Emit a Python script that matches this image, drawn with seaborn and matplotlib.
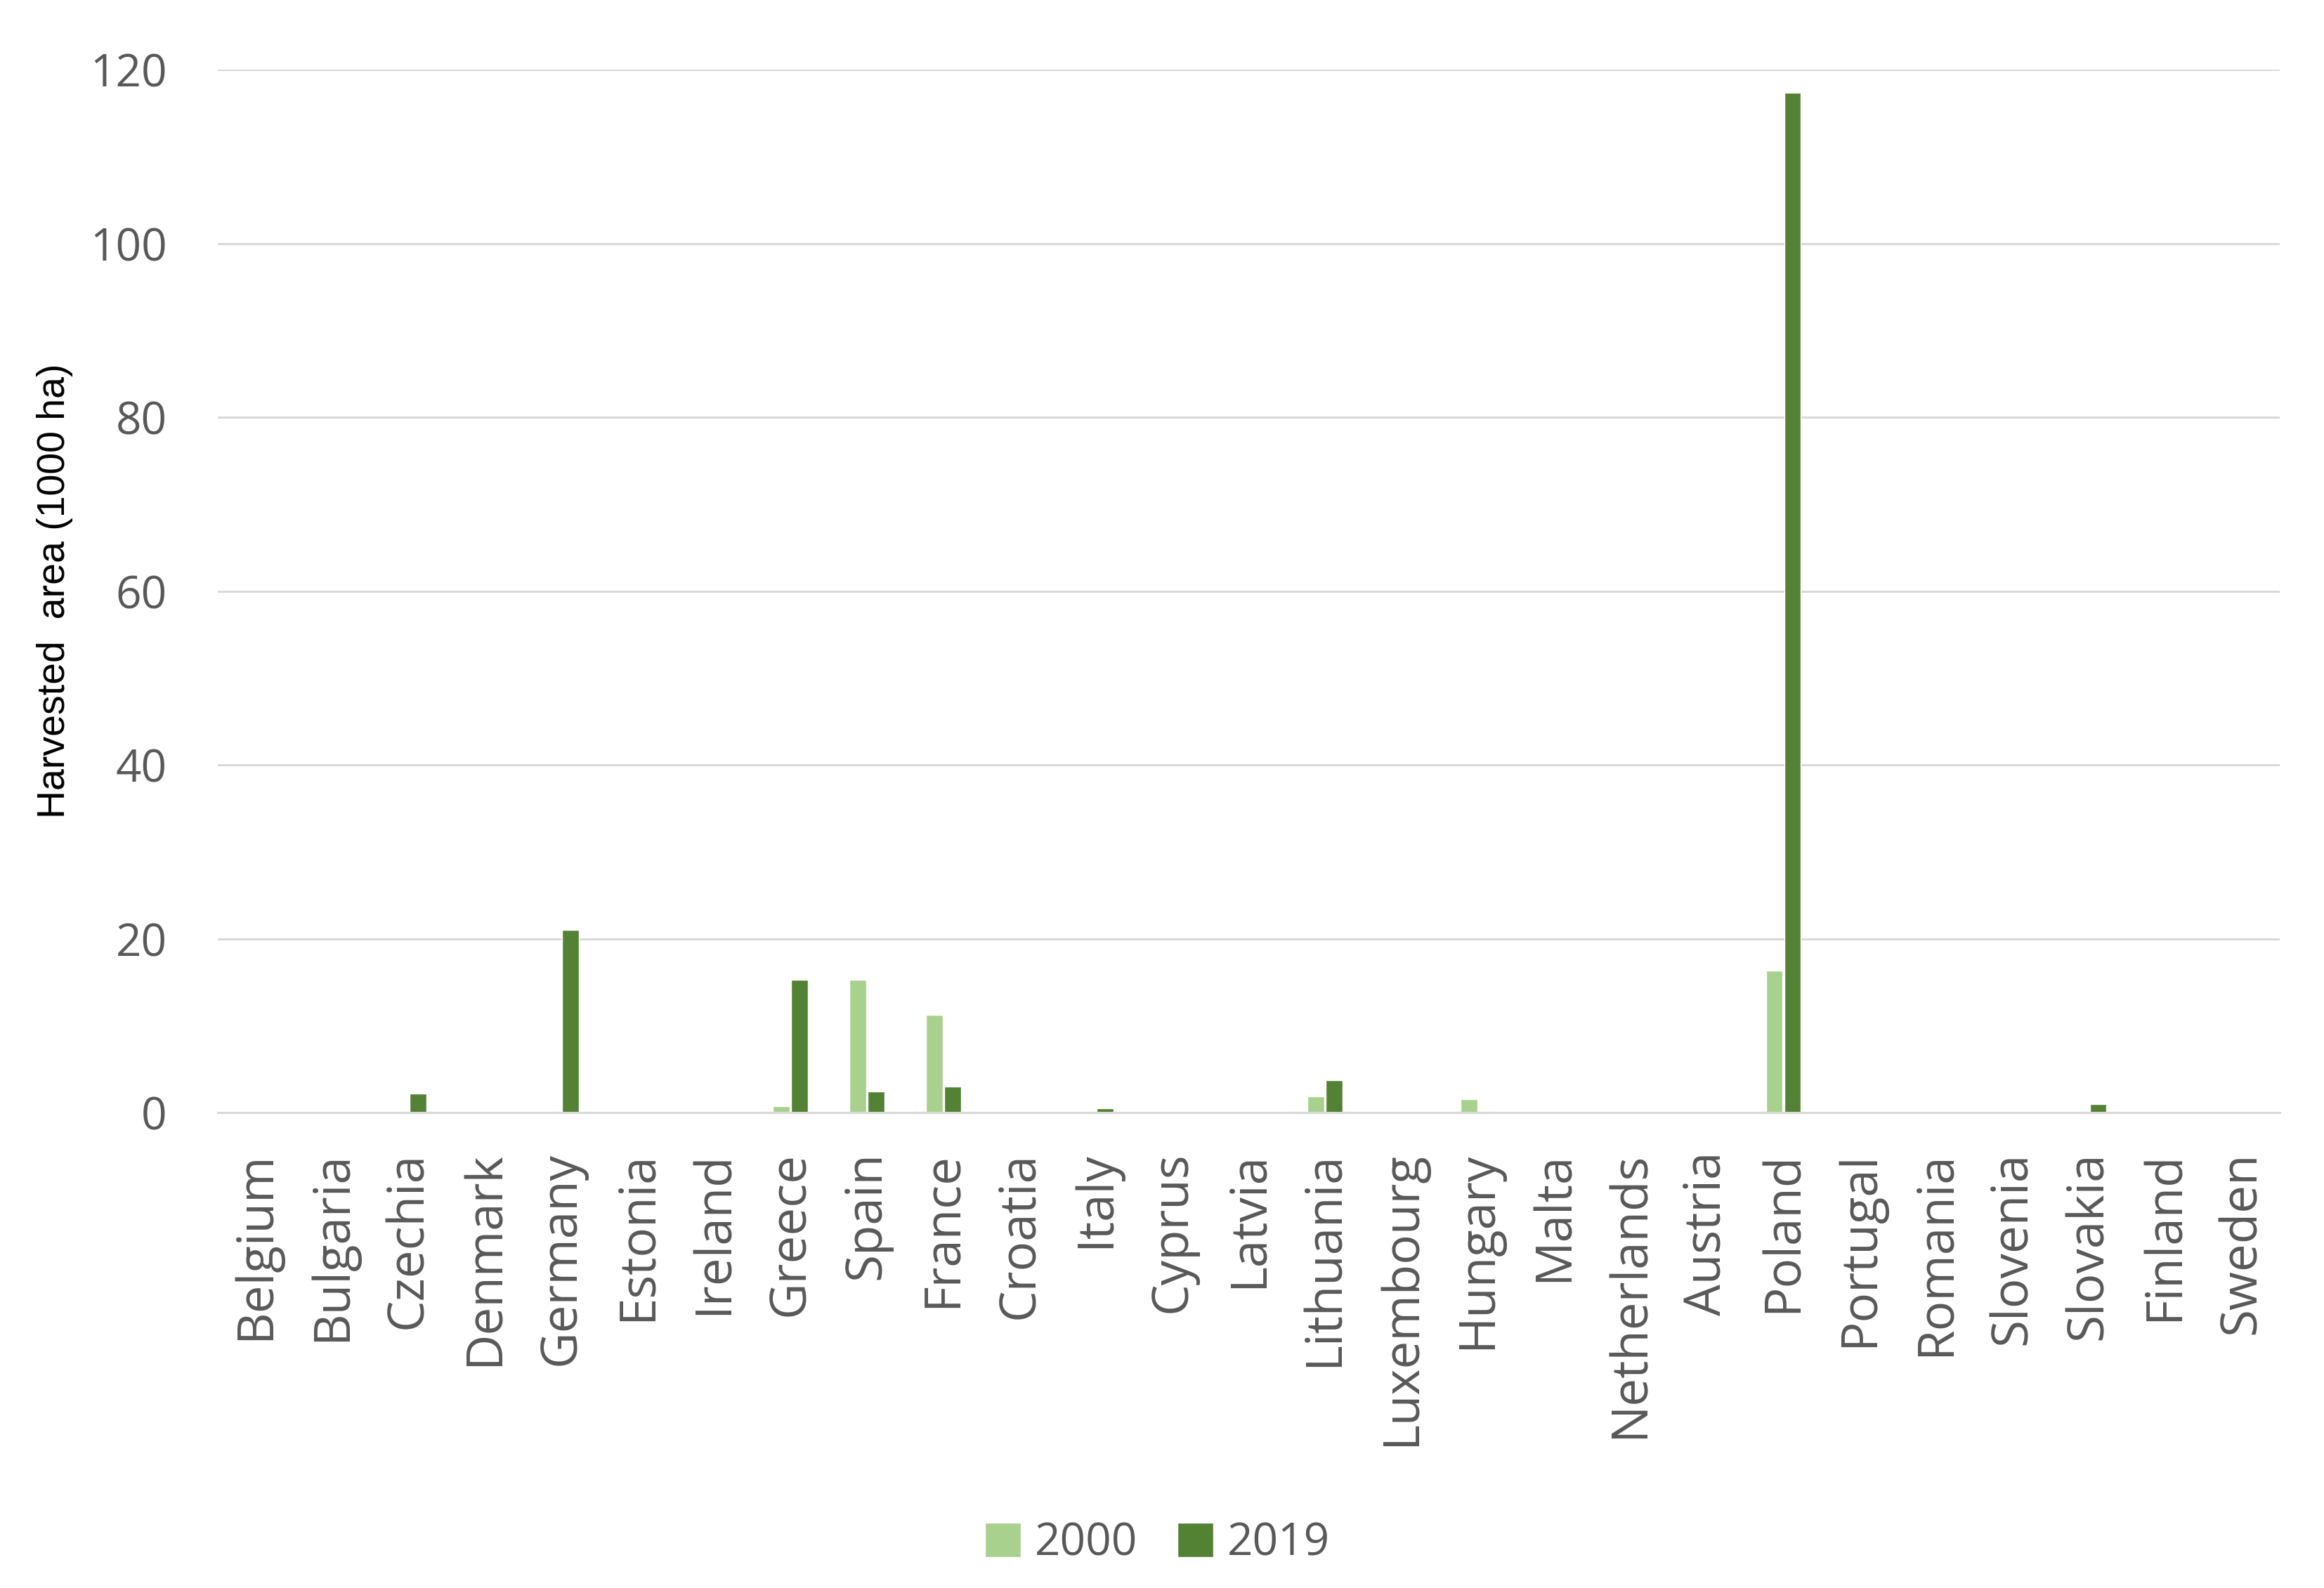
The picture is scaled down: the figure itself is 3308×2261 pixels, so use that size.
import pandas as pd
import matplotlib.pyplot as plt
import seaborn as sns

countries = ["Belgium", "Bulgaria", "Czechia", "Denmark", "Germany", "Estonia",
             "Ireland", "Greece", "Spain", "France", "Croatia", "Italy", "Cyprus",
             "Latvia", "Lithuania", "Luxembourg", "Hungary", "Malta", "Netherlands",
             "Austria", "Poland", "Portugal", "Romania", "Slovenia", "Slovakia",
             "Finland", "Sweden"]
area_2000 = [0, 0, 0, 0, 0, 0, 0, 0.7, 15.3, 11.2, 0, 0, 0, 0, 1.9, 0, 1.5, 0, 0,
             0, 16.3, 0, 0, 0, 0, 0, 0]
area_2019 = [0, 0, 2.2, 0, 21.0, 0, 0, 15.3, 2.4, 3.0, 0, 0.5, 0, 0, 3.7, 0, 0, 0, 0,
             0, 117.3, 0, 0, 0, 1.0, 0, 0]
years = ["2000", "2019"]
colors = ["#A9D18E", "#548235"]

df = pd.DataFrame({"Country": countries * 2,
                   "Year": [years[0]] * len(countries) + [years[1]] * len(countries),
                   "Area": area_2000 + area_2019})

sns.set_style("white")
plt.rcParams['font.family'] = ['Open Sans', 'DejaVu Sans']

fig = plt.figure(figsize=(33.08, 22.61), dpi=100)
ax = fig.add_axes([0.0937, 0.2994, 0.8873, 0.6568])

sns.barplot(data=df, x="Country", y="Area", hue="Year", palette=colors,
            width=0.48, gap=0.09, saturation=1, ax=ax, legend=True)

ax.set_ylim(0, 120)
ax.set_xlim(-0.5, len(countries) - 0.5)
ax.set_yticks([0, 20, 40, 60, 80, 100, 120])
ax.yaxis.grid(True, color="#D9D9D9", linewidth=2.2)
ax.set_axisbelow(True)
for s in ["top", "right", "left"]:
    ax.spines[s].set_visible(False)
ax.spines["bottom"].set_color("#D9D9D9")
ax.spines["bottom"].set_linewidth(2.2)

ax.tick_params(axis="y", length=0, pad=52, labelsize=46, labelcolor="#595959")
ax.tick_params(axis="x", length=0, pad=40, labelsize=51, labelcolor="#595959",
               labelrotation=90)
ax.set_xlabel("")
ax.set_ylabel("Harvested  area (1000 ha)", fontsize=40, color="black",
              family=["Liberation Sans", "DejaVu Sans"])
ax.yaxis.set_label_coords(-0.07, 0.5)

handles, labels = ax.get_legend_handles_labels()
ax.legend_.remove()
fig.legend(handles, labels, loc="center", bbox_to_anchor=(0.498, 0.028), ncol=2,
           frameon=False, fontsize=46, labelcolor="#595959", handlelength=0.8,
           handleheight=0.8, handletextpad=0.3, columnspacing=0.9)

fig.savefig("out.png", dpi=100)
